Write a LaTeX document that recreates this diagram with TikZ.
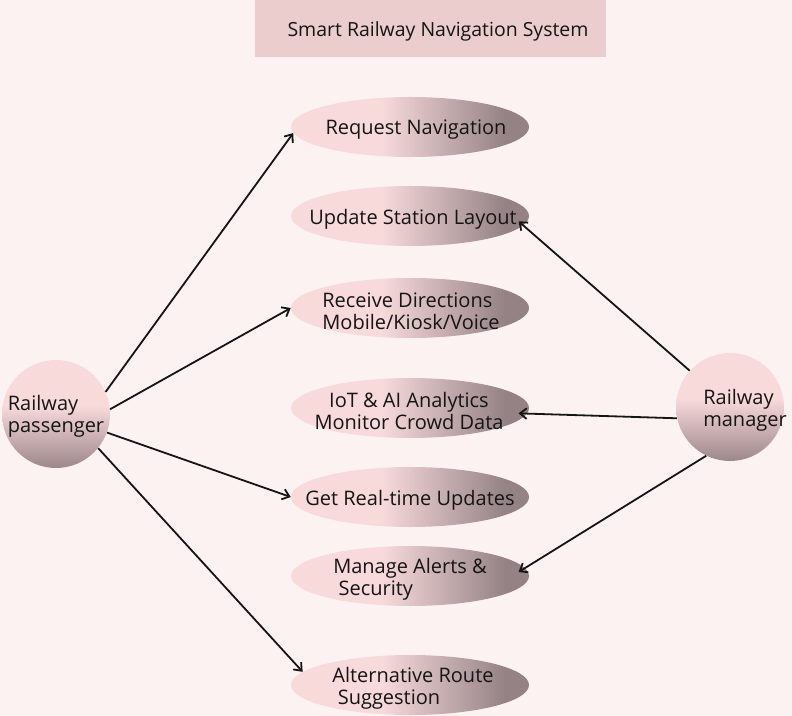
\documentclass[tikz,border=0pt]{standalone}
\usepackage{fontspec}
\setmainfont{Open Sans}
\usetikzlibrary{shapes.geometric, arrows.meta, positioning}
\definecolor{rbgback}{HTML}{FDF2F2}
\definecolor{rbtitle}{HTML}{EBCDCE}
\definecolor{rbpink}{HTML}{F8DADB}
\definecolor{rbmauve}{HTML}{958285}
\definecolor{rbgrey}{HTML}{9D878A}
\definecolor{rbink}{HTML}{151515}
\pgfdeclarehorizontalshading{caseshade}{100bp}{color(0bp)=(rbpink); color(44bp)=(rbpink);
  color(70bp)=(rbmauve); color(100bp)=(rbmauve)}
\pgfdeclareverticalshading{actorshade}{100bp}{color(0bp)=(rbgrey); color(25bp)=(rbgrey);
  color(54bp)=(rbpink); color(100bp)=(rbpink)}

\begin{document}
\begin{tikzpicture}[
    x=0.75pt, y=-0.75pt,
    usecase/.style={ellipse, shading=caseshade, draw=none, inner sep=0pt,
                    minimum width=178.5pt, minimum height=45pt},
    actor/.style={circle, shading=actorshade, draw=none, inner sep=0pt,
                  minimum size=81pt},
    lbl/.style={font=\fontsize{15}{16.5}\selectfont, color=rbink, align=#1, inner sep=0pt,
                yshift=-2.2pt},
    lbl/.default=center,
    arrow/.style={-{Straight Barb[length=5pt, width=8pt]}, line width=1.35pt, color=rbink}
]
% page and title
\fill[rbgback] (0,0) rectangle (792,716);
\fill[rbtitle] (255,0) rectangle (606,57);
\node[lbl, font=\fontsize{14.6}{16}\selectfont] (title) at (438,29) {Smart Railway Navigation System};

% use cases
\node[usecase] (reqnav) at (410,127) {};
\node[usecase] (layout) at (410,216) {};
\node[usecase] (direct) at (410,308) {};
\node[usecase] (iotai)  at (410,408) {};
\node[usecase] (update) at (410,497) {};
\node[usecase] (alerts) at (410,576) {};
\node[usecase] (altrte) at (410,685) {};

\node[lbl] (reqnav-t) at (416,127) {Request Navigation};
\node[lbl] (layout-t) at (413,216) {Update Station Layout};
\node[lbl=left] (direct-t) at (411,308) {Receive Directions\\Mobile/Kiosk/Voice};
\node[lbl] (iotai-t)  at (409,408) {IoT \& AI Analytics\\Monitor Crowd Data};
\node[lbl] (update-t) at (update) {Get Real-time Updates};
\node[lbl=left] (alerts-t) at (410,576) {Manage Alerts \&\\\hspace*{4pt}Security};
\node[lbl=left] (altrte-t) at (413,685) {Alternative Route\\\hspace*{4pt}Suggestion};

% actors
\node[actor] (passenger) at (56,414) {};
\node[actor] (manager)   at (730,407) {};
\node[lbl=left] (passenger-t) at (56,413) {Railway\\passenger};
\node[lbl=left] (manager-t)   at (745,407) {Railway\\manager};

% passenger links
\draw[arrow] (passenger.24)  -- (reqnav.183);
\draw[arrow] (passenger.5)   -- (direct.west);
\draw[arrow] (passenger.-20) -- (update.west);
\draw[arrow] (passenger.-39) -- (altrte.173);

% manager links
\draw[arrow] (manager.138) -- ([xshift=-8pt, yshift=-4pt]layout.east);
\draw[arrow] (manager.192) -- ([xshift=-8pt, yshift=-4pt]iotai.east);
\draw[arrow] (manager.244) -- ([xshift=-8pt, yshift=3pt]alerts.east);
\end{tikzpicture}
\end{document}
